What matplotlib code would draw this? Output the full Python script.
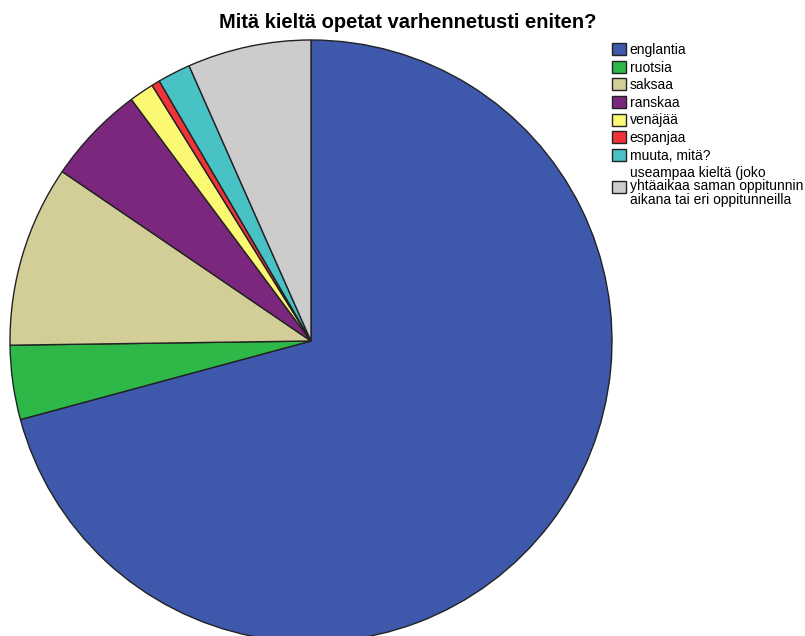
import matplotlib
matplotlib.use("Agg")
from matplotlib import pyplot as plt

plt.rcParams['font.family'] = ['Liberation Sans', 'DejaVu Sans']

# counts
labels = ["englantia", "ruotsia", "saksaa", "ranskaa", "venäjää", "espanjaa",
          "muuta, mitä?",
          "useampaa kieltä (joko\nyhtäaikaa saman oppitunnin\naikana tai eri oppitunneilla"]
counts = [160, 9, 22, 12, 3, 1, 4, 15]
colors = ["#3E58AC", "#2EB848", "#D3CE97", "#7B277D", "#FBF873", "#EF3338",
          "#48C2C5", "#CCCCCC"]

W, H = 805, 636
fig = plt.figure(figsize=(W / 100, H / 100), dpi=100)

# pie centre (311, 341) px, radius 301 px
cx, cy, r = 311, 341, 301
ax = fig.add_axes([(cx - r) / W, (H - cy - r) / H, 2 * r / W, 2 * r / H])
wedges, _ = ax.pie(counts, colors=colors, startangle=90, counterclock=False,
                   radius=1, wedgeprops=dict(edgecolor="#222222", linewidth=1))
ax.set_xlim(-1, 1)
ax.set_ylim(-1, 1)
ax.axis("off")

fig.text(408 / W, 1 - 23 / H, "Mitä kieltä opetat varhennetusti eniten?",
         ha="center", va="center", fontsize=14.5, fontweight="bold")

leg = fig.legend(wedges, labels, loc="upper left",
                 bbox_to_anchor=(612 / W, 1 - 43 / H), frameon=False,
                 fontsize=10, handlelength=1.0, handleheight=0.94,
                 handletextpad=0.28, labelspacing=0.26, borderpad=0,
                 borderaxespad=0)
for t in leg.get_texts():
    t.set_linespacing(0.92)
for p in leg.get_patches():
    p.set_linewidth(1)
    p.set_edgecolor("#222222")

fig.savefig("out.png", dpi=100)
